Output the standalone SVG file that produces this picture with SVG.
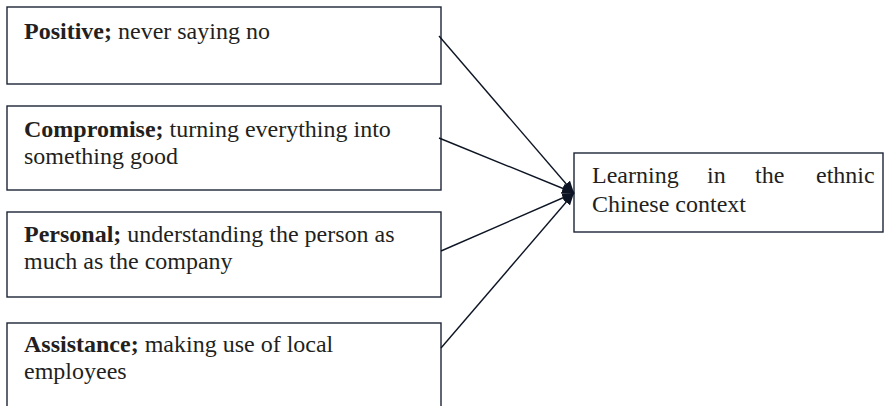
<svg xmlns="http://www.w3.org/2000/svg" width="884" height="406" viewBox="0 0 884 406">
  <style>
    .box { fill: #ffffff; stroke: #1c2535; stroke-width: 1.4; }
    .txt { font-family: "Liberation Serif", "Times New Roman", serif; font-size: 24px; fill: #231f20; }
    .b { font-weight: bold; }
    .link { stroke: #0d1524; stroke-width: 1.4; fill: none; marker-end: url(#head); }
  </style>
  <defs>
    <marker id="head" viewBox="0 0 12 10" refX="12" refY="5" markerWidth="12" markerHeight="10" markerUnits="userSpaceOnUse" orient="auto">
      <path d="M0,0 L12,5 L0,10 z" fill="#0d1524"/>
    </marker>
  </defs>
  <rect width="884" height="406" fill="#ffffff"/>

  <g id="positive">
    <rect class="box" x="7" y="7" width="434" height="77"/>
    <text class="txt" x="24" y="39"><tspan class="b">Positive;</tspan> never saying no</text>
  </g>

  <g id="compromise">
    <rect class="box" x="7" y="106" width="434" height="84"/>
    <text class="txt" x="24" y="137"><tspan class="b">Compromise;</tspan> turning everything into</text>
    <text class="txt" x="24" y="164">something good</text>
  </g>

  <g id="personal">
    <rect class="box" x="7" y="212" width="434" height="85"/>
    <text class="txt" x="24" y="242"><tspan class="b">Personal;</tspan> understanding the person as</text>
    <text class="txt" x="24" y="269">much as the company</text>
  </g>

  <g id="assistance">
    <rect class="box" x="7" y="323" width="434" height="100"/>
    <text class="txt" x="24" y="352"><tspan class="b">Assistance;</tspan> making use of local</text>
    <text class="txt" x="24" y="379">employees</text>
  </g>

  <g id="learning">
    <rect class="box" x="574" y="153" width="309" height="79"/>
    <text class="txt" y="183"><tspan x="592">Learning</tspan><tspan x="707">in</tspan><tspan x="755">the</tspan><tspan x="816">ethnic</tspan></text>
    <text class="txt" x="592" y="212">Chinese context</text>
  </g>

  <g id="connectors">
    <line class="link" x1="439" y1="36" x2="574" y2="193"/>
    <line class="link" x1="439" y1="138" x2="574" y2="193"/>
    <line class="link" x1="441" y1="251" x2="574" y2="193"/>
    <line class="link" x1="441" y1="348" x2="574" y2="193"/>
  </g>
</svg>
